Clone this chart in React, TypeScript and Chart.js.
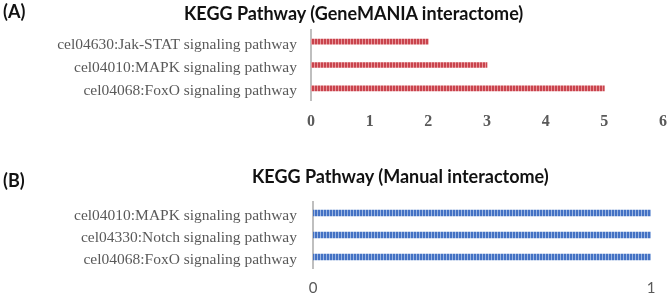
import React, { useEffect, useRef } from 'react';
import { Chart, registerables } from 'chart.js';
Chart.register(...registerables);

const panelA = '(A)';
const titleA = 'KEGG Pathway (GeneMANIA interactome)';
const categoriesA = [
  'cel04630:Jak-STAT signaling pathway',
  'cel04010:MAPK signaling pathway',
  'cel04068:FoxO signaling pathway',
];
const valuesA = [2, 3, 5];
const maxA = 6;

const panelB = '(B)';
const titleB = 'KEGG Pathway (Manual interactome)';
const categoriesB = [
  'cel04010:MAPK signaling pathway',
  'cel04330:Notch signaling pathway',
  'cel04068:FoxO signaling pathway',
];
const valuesB = [1, 1, 1];
const maxB = 1;

function stripes(dark: string, light: string): CanvasPattern | string {
  const c = document.createElement('canvas');
  c.width = 3;
  c.height = 1;
  const x = c.getContext('2d');
  if (!x) return dark;
  x.fillStyle = dark;
  x.fillRect(0, 0, 2, 1);
  x.fillStyle = light;
  x.fillRect(2, 0, 1, 1);
  return x.createPattern(c, 'repeat') || dark;
}

type Cfg = {
  labels: string[];
  values: number[];
  max: number;
  fill: CanvasPattern | string;
  barThickness: number;
  yWidth: number;
  yPad: number;
  xHeight: number;
  padTop: number;
  padRight: number;
  xFont: any;
};

function build(canvas: HTMLCanvasElement, c: Cfg) {
  return new Chart(canvas, {
    type: 'bar',
    data: {
      labels: c.labels,
      datasets: [
        {
          data: c.values,
          backgroundColor: c.fill as any,
          borderWidth: 0,
          barThickness: c.barThickness,
        },
      ],
    },
    options: {
      indexAxis: 'y',
      animation: false,
      responsive: false,
      layout: { padding: { top: c.padTop, right: c.padRight, left: 0, bottom: 0 } },
      plugins: { legend: { display: false }, title: { display: false }, tooltip: { enabled: false } },
      scales: {
        x: {
          min: 0,
          max: c.max,
          ticks: { stepSize: 1, color: '#595959', font: c.xFont, padding: 0, maxRotation: 0 },
          grid: { display: false, drawTicks: false },
          border: { display: false },
          afterFit: (s: any) => {
            s.height = c.xHeight;
          },
        },
        y: {
          ticks: {
            color: '#595959',
            font: { family: "'Liberation Serif', 'Times New Roman', serif", size: 15.5 },
            padding: c.yPad,
            labelOffset: 3,
            autoSkip: false,
          },
          grid: { display: false, drawTicks: false },
          border: { display: true, color: '#bfbfbf', width: 2 },
          afterFit: (s: any) => {
            s.width = c.yWidth;
          },
        },
      },
    },
  });
}

const titleStyle: React.CSSProperties = {
  position: 'absolute',
  fontFamily: "Lato, 'Open Sans', sans-serif",
  fontWeight: 700,
  fontSize: 18,
  lineHeight: '18px',
  color: '#111',
  whiteSpace: 'nowrap',
};

export default function App() {
  const refA = useRef<HTMLCanvasElement>(null);
  const refB = useRef<HTMLCanvasElement>(null);

  useEffect(() => {
    const red = stripes('#c9444d', '#e8959a');
    const blue = stripes('#4472c4', '#9db7e3');
    const a = build(refA.current!, {
      labels: categoriesA,
      values: valuesA,
      max: maxA,
      fill: red,
      barThickness: 5,
      yWidth: 311,
      yPad: 14,
      xHeight: 50,
      padTop: 30,
      padRight: 5,
      xFont: { family: "'Liberation Serif', 'Times New Roman', serif", size: 16, weight: 'bold', lineHeight: '44px' },
    });
    const b = build(refB.current!, {
      labels: categoriesB,
      values: valuesB,
      max: maxB,
      fill: blue,
      barThickness: 6,
      yWidth: 313,
      yPad: 16,
      xHeight: 27,
      padTop: 52,
      padRight: 17,
      xFont: { family: "Lato, 'Open Sans', sans-serif", size: 15, lineHeight: '40px' },
    });
    return () => {
      a.destroy();
      b.destroy();
    };
  }, []);

  return (
    <div style={{ position: 'absolute', left: 0, top: 0, width: 668, height: 295, background: '#fff', overflow: 'hidden' }}>
      <canvas ref={refA} width={668} height={150} style={{ position: 'absolute', left: 0, top: 0 }} />
      <canvas ref={refB} width={668} height={145} style={{ position: 'absolute', left: 0, top: 150 }} />
      <div style={{ ...titleStyle, left: 3, top: 2 }}>{panelA}</div>
      <div style={{ ...titleStyle, left: 184, top: 4 }}>{titleA}</div>
      <div style={{ ...titleStyle, left: 3, top: 171 }}>{panelB}</div>
      <div style={{ ...titleStyle, left: 252, top: 167 }}>{titleB}</div>
    </div>
  );
}
